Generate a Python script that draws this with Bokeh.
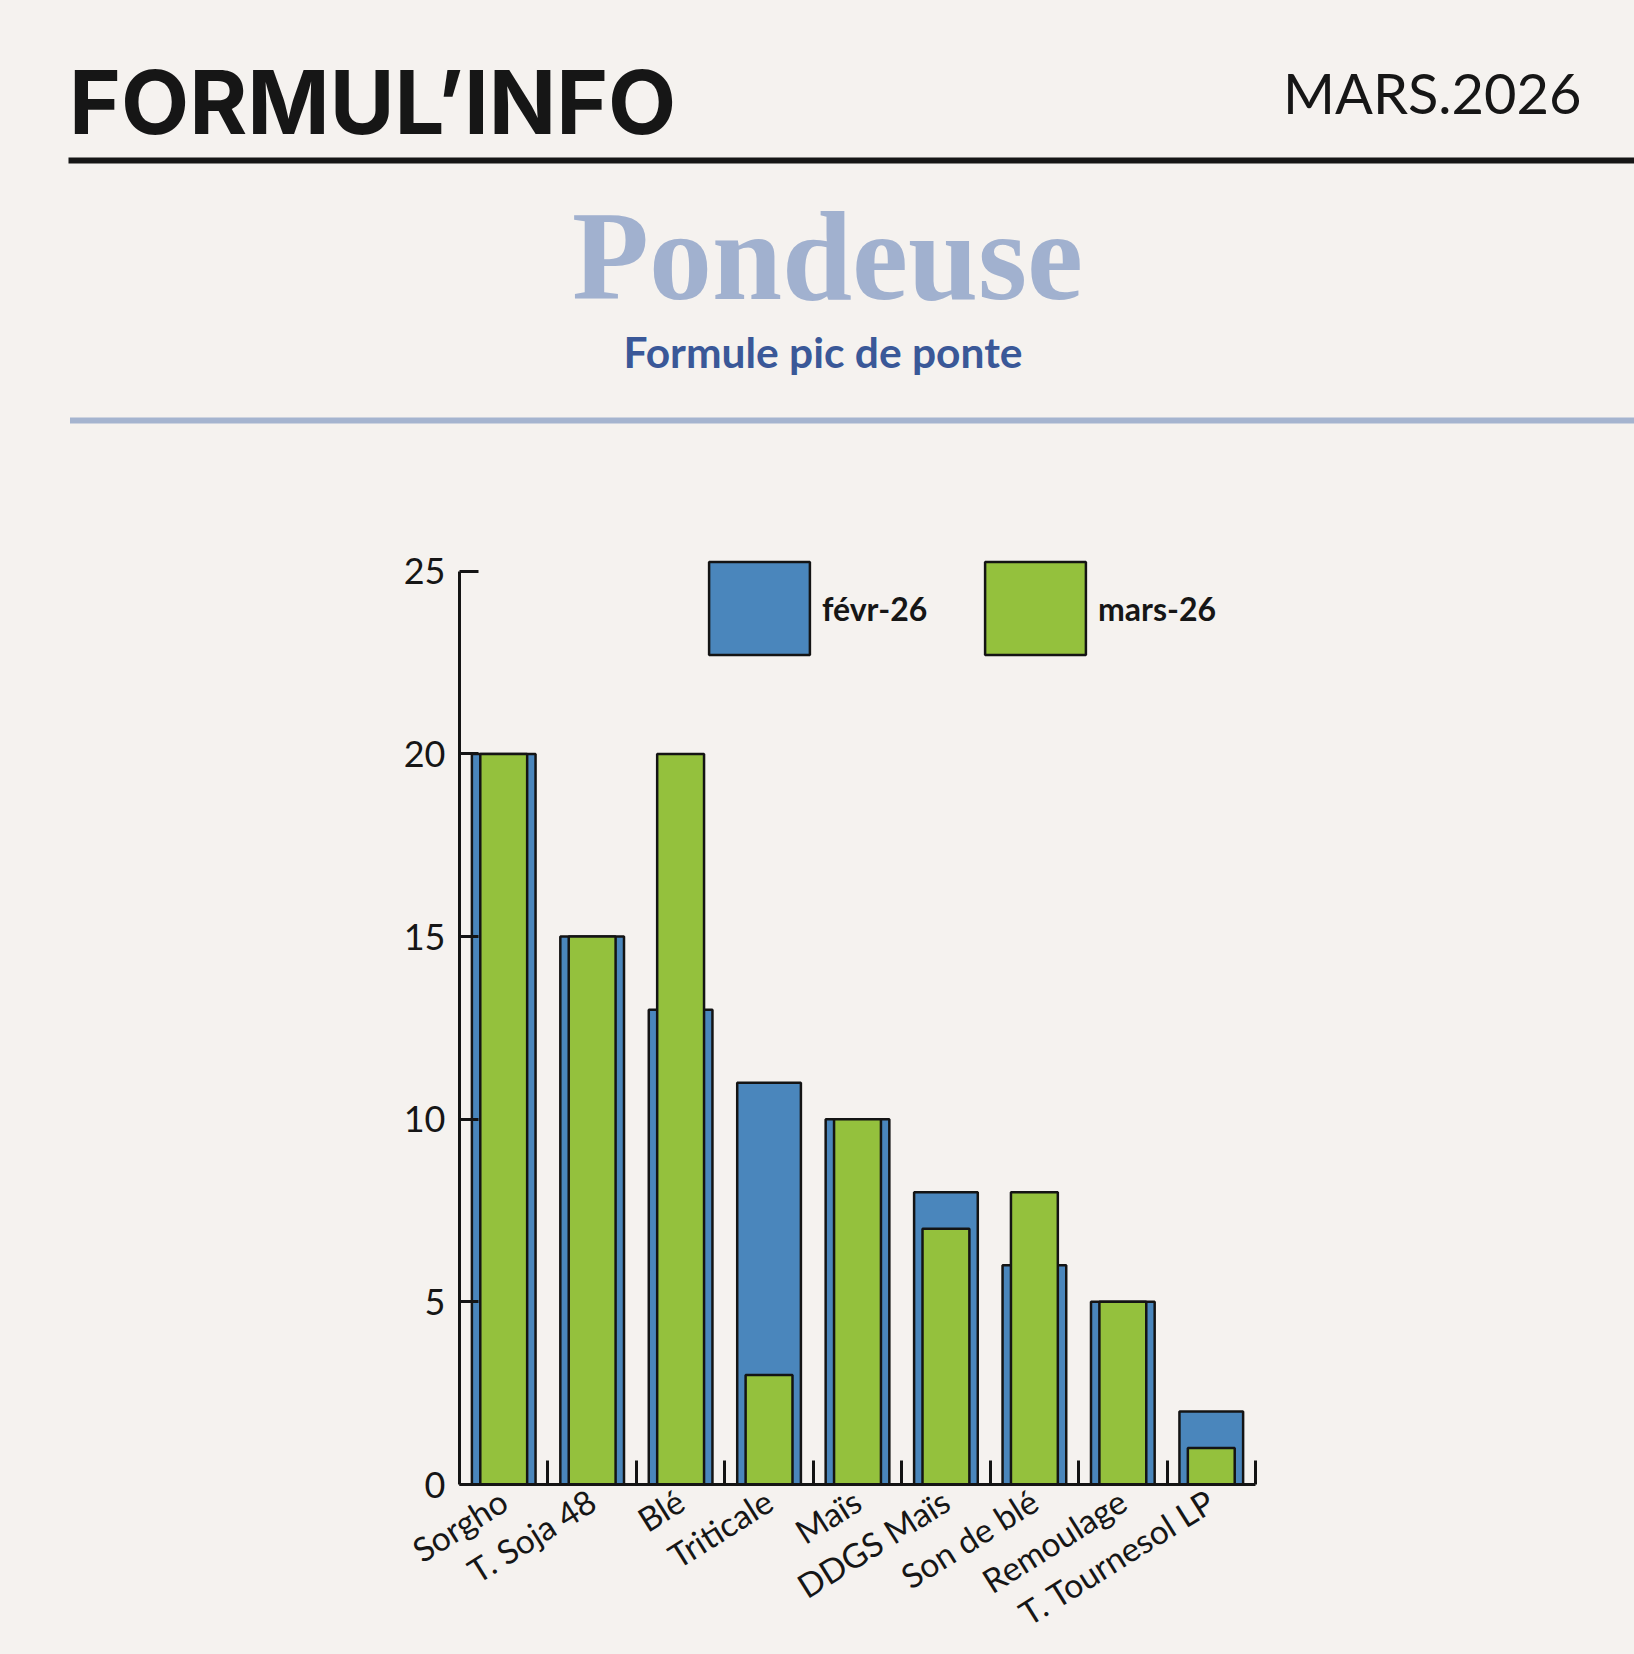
import numpy as np
from bokeh.plotting import figure
from bokeh.models import (Range1d, FixedTicker, Legend, LegendItem,
                          ColumnDataSource, GlobalInlineStyleSheet)
from bokeh.layouts import column
from bokeh.core.properties import value
from bokeh.embed import file_html
from bokeh.resources import INLINE

# ---------------- data ----------------
categories = ["Sorgho", "T. Soja 48", "Blé", "Triticale", "Maïs",
              "DDGS Maïs", "Son de blé", "Remoulage", "T. Tournesol LP"]
fevr_26 = [20, 15, 13, 11, 10, 8, 6, 5, 2]
mars_26 = [20, 15, 20, 3, 10, 7, 8, 5, 1]
y_ticks = [0, 5, 10, 15, 20, 25]
series_labels = ["févr-26", "mars-26"]
header_title = "FORMUL’INFO"
header_date = "MARS.2026"
chart_title = "Pondeuse"
chart_subtitle = "Formule pic de ponte"

# ---------------- styles ----------------
BG = "#f5f2ef"
BLUE = "#4a86bc"
GREEN = "#94c13d"
EDGE = "#141414"
TITLE_C = "#a1b1cf"
SUB_C = "#3a5898"
RULE_B = "#a5b4cf"
INK = "#161616"

W = 1634
H1 = 488
H2 = 1654 - H1

# ---------------- header ----------------
hdr = figure(width=W, height=H1, x_range=Range1d(0, W), y_range=Range1d(H1, 0),
             output_backend="svg", toolbar_location=None, min_border=0,
             x_axis_type=None, y_axis_type=None, outline_line_color=None,
             background_fill_color=BG, border_fill_color=BG)
hdr.xgrid.visible = False
hdr.ygrid.visible = False

hdr.text(x=[68.5], y=[100.5], text=[header_title], text_font=value("Inter"),
         text_font_style="bold", text_font_size="88.5px", text_color=INK,
         text_align="left", text_baseline="alphabetic")
hdr.text(x=[1581], y=[92], text=[header_date], text_font=value("Lato"),
         text_font_style="normal", text_font_size="56px", text_color=INK,
         text_align="right", text_baseline="alphabetic")
hdr.segment(x0=[68], y0=[160], x1=[W], y1=[160], line_color=INK, line_width=6)
hdr.text(x=[827], y=[255.5], text=[chart_title], text_font=value("Liberation Serif"),
         text_font_style="bold", text_font_size="126px", text_color=TITLE_C,
         text_align="center", text_baseline="alphabetic")
hdr.text(x=[822.5], y=[351], text=[chart_subtitle], text_font=value("Lato"),
         text_font_style="bold", text_font_size="42.5px", text_color=SUB_C,
         text_align="center", text_baseline="alphabetic")
hdr.segment(x0=[69.5], y0=[420], x1=[W], y1=[420], line_color=RULE_B, line_width=6)

# ---------------- chart ----------------
n = len(categories)
xc = np.arange(n) + 0.5
src = ColumnDataSource(dict(x=xc, cat=categories, fevr=fevr_26, mars=mars_26))

Y_END = 25.35
ch = figure(width=W, height=H2, x_range=Range1d(0, n), y_range=Range1d(0, Y_END),
            output_backend="svg", toolbar_location=None,
            min_border_left=459, min_border_right=379, min_border_top=70,
            min_border_bottom=170, outline_line_color=None,
            background_fill_color=BG, border_fill_color=BG)
ch.xgrid.visible = False
ch.ygrid.visible = False

for fig in (hdr, ch):
    try:
        fig.frame_align = False
    except Exception:
        pass

r1 = ch.vbar(x="x", top="fevr", bottom=0, width=0.72, source=src,
             fill_color=BLUE, line_color=EDGE, line_width=2.5)
r2 = ch.vbar(x="x", top="mars", bottom=0, width=0.53, source=src,
             fill_color=GREEN, line_color=EDGE, line_width=2.5)

# legend swatches: Bokeh insets bar swatches by 10% per side
for lab, rend, loc in [(series_labels[0], r1, (237, 818)), (series_labels[1], r2, (513, 818))]:
    lg = Legend(items=[LegendItem(label=lab, renderers=[rend])], location=loc,
                orientation="horizontal", glyph_width=126, glyph_height=116,
                label_standoff=0, padding=0, margin=0, spacing=0,
                border_line_color=None, background_fill_alpha=0,
                label_text_font="Lato", label_text_font_size="32px",
                label_text_font_style="bold", label_text_color=INK)
    ch.add_layout(lg)

yax = ch.yaxis[0]
yax.ticker = FixedTicker(ticks=y_ticks)
yax.bounds = (y_ticks[0], y_ticks[-1])
yax.major_tick_in = 19
yax.major_tick_out = 0
yax.minor_tick_line_color = None
yax.axis_line_width = 3
yax.axis_line_color = EDGE
yax.major_tick_line_width = 3
yax.major_tick_line_color = EDGE
yax.major_label_text_font = "Lato"
yax.major_label_text_font_size = "36px"
yax.major_label_text_color = INK
yax.major_label_standoff = 14

xax = ch.xaxis[0]
xax.ticker = FixedTicker(ticks=list(xc), minor_ticks=list(range(1, n + 1)))
xax.major_label_overrides = {float(v): c for v, c in zip(xc, categories)}
xax.major_tick_line_color = None
xax.minor_tick_in = 24
xax.minor_tick_out = 0
xax.minor_tick_line_width = 3
xax.minor_tick_line_color = EDGE
xax.axis_line_width = 3
xax.axis_line_color = EDGE
xax.major_label_orientation = 0.56
xax.major_label_text_font = "Lato"
xax.major_label_text_font_size = "33.5px"
xax.major_label_text_color = INK
xax.major_label_standoff = 7

p = column(hdr, ch, spacing=0,
           stylesheets=[GlobalInlineStyleSheet(css=f"body {{ background-color: {BG}; }}")])

open("out.html", "w").write(file_html(p, INLINE))
